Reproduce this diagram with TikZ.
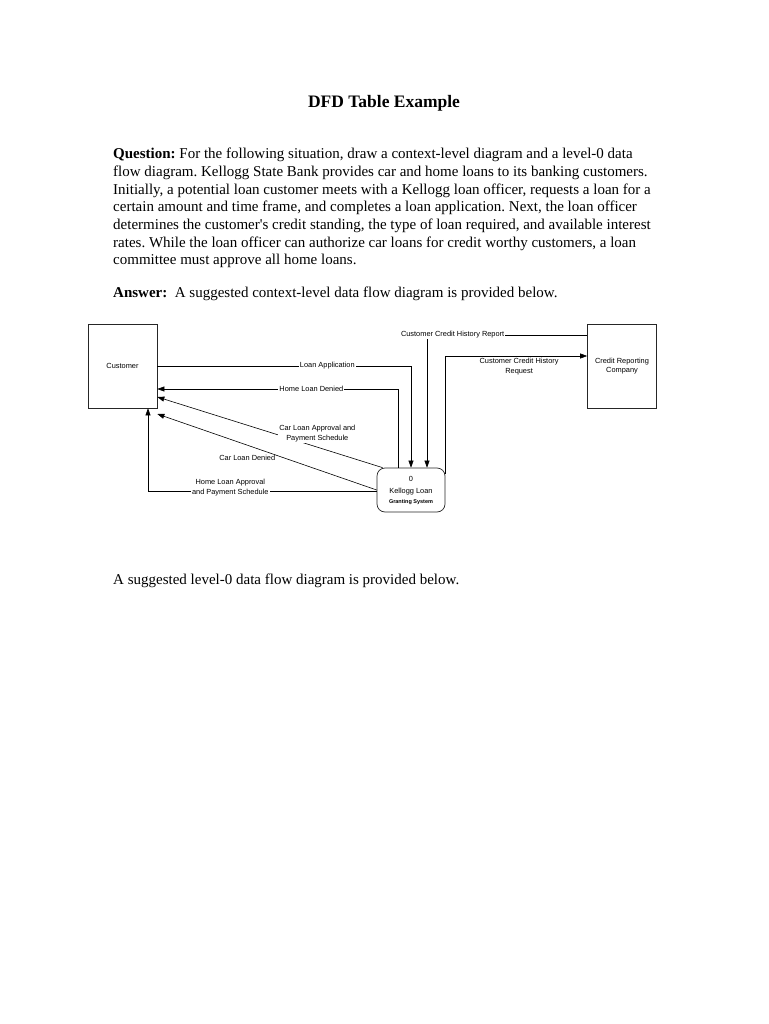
\documentclass[tikz,border=0pt]{standalone}
\usepackage{fontspec}
\setmainfont{Liberation Serif}
\newfontfamily\dfdfont{Liberation Sans}
\usetikzlibrary{arrows.meta}
\frenchspacing

\begin{document}
\begin{tikzpicture}[x=1pt, y=-1pt,
  entity/.style={draw=black!85, line width=0.7pt, minimum width=69pt, minimum height=84pt,
    align=center, font=\dfdfont\fontsize{7.4}{9.5}\selectfont},
  process/.style={draw=black!85, line width=0.7pt, rounded corners=8pt, minimum width=68pt,
    minimum height=44pt, align=center, inner sep=1pt, font=\dfdfont\fontsize{7.4}{12}\selectfont},
  flow/.style={line width=0.6pt, -{Triangle[length=7pt,width=5pt]}},
  flowlabel/.style={font=\dfdfont\fontsize{7.4}{10}\selectfont, align=center, inner sep=1pt},
  onflow/.style={flowlabel, fill=white},
  bodytext/.style={font=\fontsize{15}{17.7}\selectfont, align=left, inner sep=0pt, anchor=north west}]
  \useasboundingbox[fill=white] (0,0) rectangle (768,1024);

  % heading and question
  \node[font=\bfseries\fontsize{17.5}{20}\selectfont, anchor=base] (title) at (384,108) {DFD Table Example};
  \node[bodytext] (question) at (113,148) {\textbf{Question:} For the following situation, draw a context-level diagram and a level-0 data\\
    flow diagram. Kellogg State Bank provides car and home loans to its banking customers.\\
    Initially, a potential loan customer meets with a Kellogg loan officer, requests a loan for a\\
    certain amount and time frame, and completes a loan application. Next, the loan officer\\
    determines the customer\textquotesingle s credit standing, the type of loan required, and available interest\\
    rates. While the loan officer can authorize car loans for credit worthy customers, a loan\\
    committee must approve all home loans.};
  \node[bodytext, anchor=base west] (answer) at (113,297) {\textbf{Answer:}\ \ A suggested context-level data flow diagram is provided below.};

  % context-level diagram
  \node[entity] (cust) at (122.5,366) {Customer};
  \node[entity] (crc) at (622,366) {Credit Reporting\\Company};
  \node[process] (kls) at (411,490) {0\\Kellogg Loan\\[-2pt]{\fontsize{5.5}{6}\selectfont\bfseries Granting System}};

  \draw[flow] (cust.east) -| (kls.north)
    node[onflow, pos=0.335] {Loan Application};
  \draw[flow] ([xshift=-13pt]kls.north) |- ([yshift=-23pt]cust.east)
    node[onflow, pos=0.68] {Home Loan Denied};
  \draw[flow] ([yshift=31pt]crc.west) -| ([xshift=16pt]kls.north)
    node[onflow, pos=0.42] {Customer Credit History Report};
  \draw[flow] ([yshift=16pt]kls.east) |- ([yshift=10pt]crc.west)
    node[flowlabel, pos=0.76, below=1pt] {Customer Credit History\\Request};
  \draw[flow] ([xshift=6pt]kls.north west) -- ([yshift=-31pt]cust.east)
    node[onflow, pos=0.29, yshift=14pt] {Car Loan Approval and\\Payment Schedule};
  \draw[flow] (kls.west) -- ([yshift=-48pt]cust.east)
    node[flowlabel, pos=0.59, yshift=-13pt] {Car Loan Denied};
  \draw[flow] ([yshift=-1pt]kls.west) -| ([xshift=25.5pt]cust.south)
    node[onflow, pos=0.32, yshift=3pt] {Home Loan Approval\\and Payment Schedule};

  % level-0 note
  \node[bodytext, anchor=base west] (levelzero) at (113,584) {A suggested level-0 data flow diagram is provided below.};
\end{tikzpicture}
\end{document}
